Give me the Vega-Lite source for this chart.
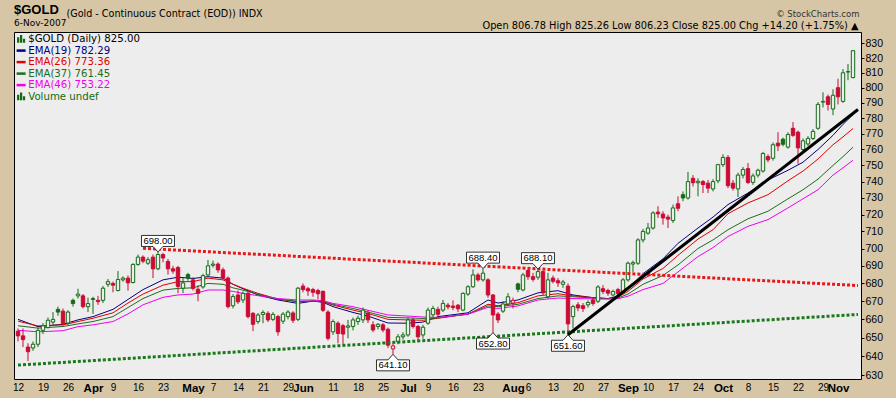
{
"$schema": "https://vega.github.io/schema/vega-lite/v6.json",
"width": 847, "height": 347,
"autosize": {"type": "none"},
"padding": {"left": 14, "top": 32, "right": 35, "bottom": 19},
"background": "#D6C6A6",
"title": {"text": "$GOLD", "subtitle": "6-Nov-2007", "anchor": "start", "frame": "group", "offset": -20, "font": "Liberation Sans", "fontSize": 13, "fontWeight": "bold", "color": "#000000", "subtitleFont": "DejaVu Sans", "subtitleFontSize": 9, "subtitleColor": "#000000", "subtitlePadding": 2},
"datasets": {
"candles": [
{"d":"2007-03-12","o":653.5,"h":655,"l":648,"c":651},
{"d":"2007-03-13","o":651,"h":655,"l":645,"c":649},
{"d":"2007-03-14","o":645,"h":647,"l":637.5,"c":642.5},
{"d":"2007-03-15","o":644.5,"h":648,"l":643,"c":646.5},
{"d":"2007-03-16","o":646.5,"h":655.5,"l":645,"c":654},
{"d":"2007-03-19","o":654,"h":658,"l":652,"c":656.5},
{"d":"2007-03-20","o":655.5,"h":661,"l":655,"c":659.5},
{"d":"2007-03-21","o":658.5,"h":664,"l":657,"c":660},
{"d":"2007-03-22","o":665.5,"h":667,"l":662,"c":664},
{"d":"2007-03-23","o":664.5,"h":666,"l":656.5,"c":657.5},
{"d":"2007-03-26","o":658,"h":665,"l":657,"c":664},
{"d":"2007-03-27","o":670.5,"h":671.5,"l":667,"c":668.7},
{"d":"2007-03-28","o":673,"h":677,"l":671.5,"c":674},
{"d":"2007-03-29","o":673,"h":674,"l":666,"c":667},
{"d":"2007-03-30","o":667,"h":672,"l":664,"c":668.7},
{"d":"2007-04-02","o":671,"h":672.5,"l":663,"c":671.5},
{"d":"2007-04-03","o":670.5,"h":673,"l":668,"c":669.8},
{"d":"2007-04-04","o":670.5,"h":678.5,"l":669,"c":677.3},
{"d":"2007-04-05","o":679.5,"h":682.5,"l":678,"c":681},
{"d":"2007-04-09","o":680,"h":681,"l":675,"c":679},
{"d":"2007-04-10","o":676,"h":687,"l":675.5,"c":682.2},
{"d":"2007-04-11","o":682,"h":684,"l":681,"c":683},
{"d":"2007-04-12","o":683,"h":684.5,"l":676,"c":680.3},
{"d":"2007-04-13","o":680.5,"h":691.5,"l":680,"c":690.8},
{"d":"2007-04-16","o":690.8,"h":696.5,"l":690,"c":695},
{"d":"2007-04-17","o":695,"h":696,"l":691.5,"c":692.7},
{"d":"2007-04-18","o":691.5,"h":695,"l":690.5,"c":693.5},
{"d":"2007-04-19","o":695,"h":696.5,"l":683,"c":688.3},
{"d":"2007-04-20","o":688.3,"h":698,"l":687.5,"c":696.5},
{"d":"2007-04-23","o":696.5,"h":697.5,"l":692,"c":694.5},
{"d":"2007-04-24","o":692.5,"h":694,"l":685,"c":688.3},
{"d":"2007-04-25","o":688.3,"h":690,"l":685.5,"c":687},
{"d":"2007-04-26","o":689,"h":690,"l":674.5,"c":678.3},
{"d":"2007-04-27","o":677.3,"h":683,"l":674.5,"c":680.3},
{"d":"2007-04-30","o":685,"h":686,"l":681.5,"c":683},
{"d":"2007-05-01","o":682,"h":683.5,"l":676,"c":677.2},
{"d":"2007-05-02","o":676.7,"h":679,"l":670,"c":674.4},
{"d":"2007-05-03","o":678,"h":685.5,"l":677,"c":684.4},
{"d":"2007-05-04","o":684.8,"h":693.4,"l":684,"c":690},
{"d":"2007-05-07","o":690.3,"h":693,"l":689,"c":691},
{"d":"2007-05-08","o":691,"h":692,"l":686,"c":687.7},
{"d":"2007-05-09","o":687.7,"h":689,"l":682,"c":683},
{"d":"2007-05-10","o":683,"h":684,"l":666,"c":667},
{"d":"2007-05-11","o":667.5,"h":674,"l":666,"c":672.6},
{"d":"2007-05-14","o":673.5,"h":676,"l":668.5,"c":669.7},
{"d":"2007-05-15","o":670.7,"h":675.5,"l":669,"c":674.4},
{"d":"2007-05-16","o":674.4,"h":675.5,"l":660.5,"c":661.5},
{"d":"2007-05-17","o":663.3,"h":664,"l":653.6,"c":657.3},
{"d":"2007-05-18","o":658.8,"h":663.5,"l":657.5,"c":662.4},
{"d":"2007-05-21","o":662.7,"h":665,"l":657.9,"c":663.8},
{"d":"2007-05-22","o":663.3,"h":664.5,"l":658.5,"c":659.7},
{"d":"2007-05-23","o":660,"h":664,"l":659,"c":662.7},
{"d":"2007-05-24","o":661.5,"h":662.5,"l":651.1,"c":653.2},
{"d":"2007-05-25","o":659,"h":664,"l":657.5,"c":662.9},
{"d":"2007-05-29","o":661.5,"h":665,"l":660,"c":664},
{"d":"2007-05-30","o":663.5,"h":664.5,"l":658,"c":659.5},
{"d":"2007-05-31","o":660,"h":678,"l":659,"c":677.3},
{"d":"2007-06-01","o":678.5,"h":680,"l":675,"c":676.5},
{"d":"2007-06-04","o":677,"h":678,"l":673,"c":675.8},
{"d":"2007-06-05","o":676.5,"h":677.5,"l":672.5,"c":675},
{"d":"2007-06-06","o":676,"h":677,"l":671,"c":674.2},
{"d":"2007-06-07","o":675.5,"h":676,"l":664,"c":665},
{"d":"2007-06-08","o":664,"h":665,"l":648.5,"c":649.7},
{"d":"2007-06-11","o":653.2,"h":660,"l":651.5,"c":658.8},
{"d":"2007-06-12","o":657.9,"h":659,"l":647,"c":652.3},
{"d":"2007-06-13","o":656.5,"h":657.5,"l":646.5,"c":652},
{"d":"2007-06-14","o":655.7,"h":659.7,"l":649.7,"c":656.4},
{"d":"2007-06-15","o":656.1,"h":661,"l":654,"c":659.7},
{"d":"2007-06-18","o":658.8,"h":662,"l":657,"c":660.6},
{"d":"2007-06-19","o":659.7,"h":666.5,"l":658,"c":665.1},
{"d":"2007-06-20","o":663.3,"h":665,"l":658,"c":659.7},
{"d":"2007-06-21","o":657,"h":659,"l":653,"c":654.2},
{"d":"2007-06-22","o":656.1,"h":658,"l":654.5,"c":657.3},
{"d":"2007-06-25","o":657,"h":658,"l":653,"c":654.2},
{"d":"2007-06-26","o":654.6,"h":655.5,"l":644.5,"c":646},
{"d":"2007-06-27","o":644,"h":647,"l":641.1,"c":645.6},
{"d":"2007-06-28","o":647.8,"h":652,"l":646.5,"c":650.5},
{"d":"2007-06-29","o":650.5,"h":653,"l":649,"c":651.5},
{"d":"2007-07-02","o":651.5,"h":661,"l":650.5,"c":659.7},
{"d":"2007-07-03","o":659.7,"h":661,"l":655,"c":656.1},
{"d":"2007-07-05","o":656.1,"h":657,"l":647.8,"c":650.5},
{"d":"2007-07-06","o":651.5,"h":657,"l":649.5,"c":655.7},
{"d":"2007-07-09","o":657.9,"h":666.5,"l":657,"c":665.1},
{"d":"2007-07-10","o":662.5,"h":667.5,"l":661,"c":666},
{"d":"2007-07-11","o":665.5,"h":667,"l":661.5,"c":662.8},
{"d":"2007-07-12","o":665.1,"h":670.7,"l":664,"c":668.8},
{"d":"2007-07-13","o":667.8,"h":669,"l":665.5,"c":666.9},
{"d":"2007-07-16","o":667.3,"h":670.5,"l":665,"c":666.5},
{"d":"2007-07-17","o":667.8,"h":668.5,"l":664,"c":665.8},
{"d":"2007-07-18","o":665.1,"h":675,"l":664.5,"c":674.4},
{"d":"2007-07-19","o":674,"h":679,"l":673,"c":678.1},
{"d":"2007-07-20","o":678.1,"h":688,"l":677.5,"c":684.8},
{"d":"2007-07-23","o":684.8,"h":686,"l":681,"c":682},
{"d":"2007-07-24","o":682,"h":688.4,"l":681,"c":685.8},
{"d":"2007-07-25","o":682,"h":683,"l":672,"c":673.5},
{"d":"2007-07-26","o":673.5,"h":674,"l":652.8,"c":662.4},
{"d":"2007-07-27","o":662.9,"h":664,"l":658,"c":659.7},
{"d":"2007-07-30","o":664.5,"h":670,"l":663.5,"c":668.5},
{"d":"2007-07-31","o":668.5,"h":674.5,"l":667.5,"c":672.5},
{"d":"2007-08-01","o":669,"h":672,"l":666,"c":670.5},
{"d":"2007-08-02","o":679.7,"h":680.5,"l":675,"c":676.7},
{"d":"2007-08-03","o":676.3,"h":686,"l":675.5,"c":684.8},
{"d":"2007-08-06","o":687.3,"h":688,"l":682,"c":683.8},
{"d":"2007-08-07","o":683.8,"h":686,"l":681,"c":682.3},
{"d":"2007-08-08","o":683.5,"h":688.1,"l":682,"c":686.7},
{"d":"2007-08-09","o":686.7,"h":687.5,"l":673.5,"c":674.7},
{"d":"2007-08-10","o":672.5,"h":686,"l":671.5,"c":682},
{"d":"2007-08-13","o":683,"h":684.5,"l":680,"c":681.2},
{"d":"2007-08-14","o":681.5,"h":683,"l":678,"c":680.3},
{"d":"2007-08-15","o":679.5,"h":682,"l":677.5,"c":680.8},
{"d":"2007-08-16","o":678.5,"h":680,"l":651.6,"c":657.5},
{"d":"2007-08-17","o":661.5,"h":668,"l":655,"c":667},
{"d":"2007-08-20","o":668,"h":669.5,"l":664.5,"c":666.3},
{"d":"2007-08-21","o":667.5,"h":669,"l":664,"c":666},
{"d":"2007-08-22","o":668,"h":670.5,"l":666.5,"c":669.3},
{"d":"2007-08-23","o":670.7,"h":672,"l":667.5,"c":668.8},
{"d":"2007-08-24","o":670,"h":679,"l":669,"c":678},
{"d":"2007-08-27","o":677,"h":679,"l":674,"c":675.5},
{"d":"2007-08-28","o":676,"h":677,"l":673,"c":674.5},
{"d":"2007-08-29","o":673.5,"h":676.5,"l":672.5,"c":675.4},
{"d":"2007-08-30","o":676.5,"h":677.5,"l":673,"c":674.3},
{"d":"2007-08-31","o":675,"h":683,"l":674,"c":682},
{"d":"2007-09-04","o":682,"h":692.5,"l":681,"c":691.5},
{"d":"2007-09-05","o":691,"h":693,"l":686.5,"c":691.8},
{"d":"2007-09-06","o":691.5,"h":706,"l":690.5,"c":705},
{"d":"2007-09-07","o":705,"h":711.5,"l":703.5,"c":710},
{"d":"2007-09-10","o":709,"h":715,"l":708,"c":712},
{"d":"2007-09-11","o":712,"h":722,"l":711,"c":721},
{"d":"2007-09-12","o":721.5,"h":725,"l":718,"c":720.5},
{"d":"2007-09-13","o":720.3,"h":722,"l":714,"c":718},
{"d":"2007-09-14","o":718.5,"h":720,"l":712,"c":717.3},
{"d":"2007-09-17","o":716.5,"h":726,"l":715,"c":724},
{"d":"2007-09-18","o":726.5,"h":731,"l":722,"c":723.8},
{"d":"2007-09-19","o":732,"h":734,"l":728,"c":730},
{"d":"2007-09-20","o":730,"h":746,"l":729,"c":740},
{"d":"2007-09-21","o":742,"h":744,"l":737,"c":739.3},
{"d":"2007-09-24","o":739.3,"h":742,"l":731,"c":740.2},
{"d":"2007-09-25","o":740,"h":741,"l":733,"c":738.2},
{"d":"2007-09-26","o":739,"h":741,"l":733,"c":736},
{"d":"2007-09-27","o":735.5,"h":741.5,"l":734,"c":740},
{"d":"2007-09-28","o":740.5,"h":751,"l":739,"c":750.5},
{"d":"2007-10-01","o":750.5,"h":757,"l":749,"c":755},
{"d":"2007-10-02","o":755,"h":756.5,"l":736,"c":737.5},
{"d":"2007-10-03","o":739,"h":741,"l":734.5,"c":736},
{"d":"2007-10-04","o":735.5,"h":745.5,"l":730.5,"c":744},
{"d":"2007-10-05","o":744,"h":749,"l":742,"c":747.5},
{"d":"2007-10-08","o":748,"h":751.5,"l":738.5,"c":739.5},
{"d":"2007-10-09","o":739.5,"h":745,"l":738,"c":743.5},
{"d":"2007-10-10","o":744,"h":748,"l":742.5,"c":747},
{"d":"2007-10-11","o":746.5,"h":758.5,"l":745.5,"c":757.5},
{"d":"2007-10-12","o":755.5,"h":757,"l":752,"c":753.5},
{"d":"2007-10-15","o":754.5,"h":764.5,"l":753,"c":763},
{"d":"2007-10-16","o":764,"h":771,"l":759,"c":762.3},
{"d":"2007-10-17","o":766.5,"h":767.5,"l":762,"c":763.3},
{"d":"2007-10-18","o":761.5,"h":771,"l":760.5,"c":769.5},
{"d":"2007-10-19","o":773.5,"h":777.5,"l":768,"c":769},
{"d":"2007-10-22","o":771,"h":772,"l":751,"c":761},
{"d":"2007-10-23","o":760,"h":767,"l":758,"c":765.5},
{"d":"2007-10-24","o":763.5,"h":768.5,"l":762,"c":767},
{"d":"2007-10-25","o":767,"h":773,"l":766,"c":771.5},
{"d":"2007-10-26","o":773.5,"h":790.5,"l":772.5,"c":789},
{"d":"2007-10-29","o":790.5,"h":797,"l":787,"c":791},
{"d":"2007-10-30","o":794,"h":795.5,"l":785,"c":789},
{"d":"2007-10-31","o":786,"h":799,"l":782,"c":795},
{"d":"2007-11-01","o":800,"h":806,"l":789,"c":794},
{"d":"2007-11-02","o":791,"h":812.5,"l":790,"c":810},
{"d":"2007-11-05","o":810.5,"h":816,"l":805,"c":810.8},
{"d":"2007-11-06","o":806.78,"h":825.26,"l":806.23,"c":825}
],
"ema": [
{"d":"2007-03-12","e19":660,"e26":659,"e37":656.5,"e46":654},
{"d":"2007-03-16","e19":656,"e26":656.4,"e37":655.2,"e46":653.2},
{"d":"2007-03-23","e19":657.3,"e26":657,"e37":656.1,"e46":653.8},
{"d":"2007-03-28","e19":659.7,"e26":658.8,"e37":657.5,"e46":656},
{"d":"2007-04-02","e19":661.5,"e26":660.6,"e37":658.8,"e46":657},
{"d":"2007-04-09","e19":665.5,"e26":663.6,"e37":661.5,"e46":658.8},
{"d":"2007-04-12","e19":671,"e26":669,"e37":666.5,"e46":663},
{"d":"2007-04-17","e19":676.5,"e26":674,"e37":671.5,"e46":668},
{"d":"2007-04-23","e19":682,"e26":679,"e37":676.2,"e46":672.2},
{"d":"2007-04-26","e19":683.5,"e26":681,"e37":677.2,"e46":673.5},
{"d":"2007-05-01","e19":682.8,"e26":681,"e37":677.5,"e46":674},
{"d":"2007-05-04","e19":683.8,"e26":683,"e37":680,"e46":676.3},
{"d":"2007-05-09","e19":683,"e26":682,"e37":679.5,"e46":676.3},
{"d":"2007-05-11","e19":679.5,"e26":679.5,"e37":677.5,"e46":675.5},
{"d":"2007-05-15","e19":677,"e26":677.3,"e37":676.2,"e46":674.4},
{"d":"2007-05-18","e19":673.5,"e26":674.4,"e37":673.9,"e46":673.1},
{"d":"2007-05-24","e19":670.7,"e26":671.2,"e37":671.2,"e46":671.5},
{"d":"2007-05-31","e19":668.8,"e26":669.7,"e37":669.9,"e46":670.7},
{"d":"2007-06-05","e19":670.1,"e26":670.1,"e37":670.1,"e46":670.7},
{"d":"2007-06-07","e19":669.4,"e26":669.7,"e37":669.9,"e46":670.3},
{"d":"2007-06-11","e19":667,"e26":667.9,"e37":668.3,"e46":668.8},
{"d":"2007-06-15","e19":663.8,"e26":665.1,"e37":666,"e46":667},
{"d":"2007-06-20","e19":661.8,"e26":663.2,"e37":664,"e46":665},
{"d":"2007-06-26","e19":658,"e26":660,"e37":661.1,"e46":662.4},
{"d":"2007-07-02","e19":657.9,"e26":659.7,"e37":660.8,"e46":661.8},
{"d":"2007-07-06","e19":658.5,"e26":659.5,"e37":660.5,"e46":661.3},
{"d":"2007-07-11","e19":661.5,"e26":660.6,"e37":660.8,"e46":661},
{"d":"2007-07-19","e19":663.6,"e26":662.9,"e37":662.9,"e46":662.8},
{"d":"2007-07-25","e19":670.7,"e26":668.3,"e37":667.4,"e46":666.6},
{"d":"2007-07-27","e19":669,"e26":667.5,"e37":667,"e46":666},
{"d":"2007-08-02","e19":670.7,"e26":669.2,"e37":668.3,"e46":667.4},
{"d":"2007-08-08","e19":674.7,"e26":673,"e37":671.5,"e46":670.7},
{"d":"2007-08-14","e19":675.9,"e26":674.2,"e37":673,"e46":671.8},
{"d":"2007-08-17","e19":673.5,"e26":673,"e37":672.5,"e46":671.5},
{"d":"2007-08-23","e19":672,"e26":672,"e37":671.8,"e46":671.3},
{"d":"2007-08-28","e19":671.5,"e26":671.5,"e37":671.4,"e46":671.2},
{"d":"2007-08-30","e19":672.8,"e26":672.3,"e37":671.8,"e46":671.4},
{"d":"2007-09-04","e19":677,"e26":675.5,"e37":674,"e46":672.8},
{"d":"2007-09-07","e19":685.5,"e26":682.5,"e37":679.5,"e46":676.5},
{"d":"2007-09-13","e19":694,"e26":688.5,"e37":684.5,"e46":680},
{"d":"2007-09-18","e19":703,"e26":696,"e37":690.5,"e46":686.5},
{"d":"2007-09-24","e19":712,"e26":705.5,"e37":700,"e46":695.3},
{"d":"2007-09-27","e19":718.5,"e26":711,"e37":705,"e46":700.5},
{"d":"2007-10-02","e19":726,"e26":720.5,"e37":711,"e46":707},
{"d":"2007-10-08","e19":733,"e26":727,"e37":717.5,"e46":713},
{"d":"2007-10-12","e19":741,"e26":732,"e37":722,"e46":717},
{"d":"2007-10-18","e19":747,"e26":740.5,"e37":729.5,"e46":724},
{"d":"2007-10-23","e19":752,"e26":746.5,"e37":735,"e46":729.5},
{"d":"2007-10-26","e19":760,"e26":754,"e37":741.5,"e46":735},
{"d":"2007-10-31","e19":769,"e26":763,"e37":750,"e46":744},
{"d":"2007-11-02","e19":776,"e26":768,"e37":755.5,"e46":748.5},
{"d":"2007-11-06","e19":782.29,"e26":773.36,"e37":761.45,"e46":753.22}
],
"above": [
{"d":"2007-04-20","v":698.0},
{"d":"2007-07-24","v":688.4},
{"d":"2007-08-08","v":688.1}
],
"below": [
{"d":"2007-06-27","v":641.1},
{"d":"2007-07-26","v":652.8},
{"d":"2007-08-16","v":651.6}
]
},
"resolve": {"axis": {"x": "independent", "y": "independent"}},
"layer": [
{
"data": {"name": "ema"},
"transform": [{"fold": ["e19", "e26", "e37", "e46"], "as": ["k", "v"]}],
"mark": {"type": "line", "strokeWidth": 1},
"encoding": {
"x": {"field": "d", "type": "ordinal", "scale": {"type": "point", "padding": 0.7, "align": 0.571},
"axis": {"orient": "top", "labels": false, "ticks": false, "domain": false, "grid": false, "title": "Open 806.78  High 825.26  Low 806.23  Close 825.00  Chg +14.20 (+1.75%) ▲", "titleX": 844, "titleY": -7, "titleAlign": "right", "titleAnchor": null, "titleBaseline": "middle", "titleFont": "DejaVu Sans", "titleFontSize": 9.8, "titleFontWeight": "normal", "titleColor": "#000000", "titlePadding": 0}},
"y": {"field": "v", "type": "quantitative", "scale": {"type": "log", "domain": [628.1, 837.9], "nice": false, "zero": false},
"axis": {"orient": "left", "labels": false, "ticks": false, "domain": false, "grid": false, "title": "(Gold - Continuous Contract (EOD)) INDX", "titleAngle": 0, "titleX": 52, "titleY": -19, "titleAlign": "left", "titleAnchor": null, "titleBaseline": "middle", "titleFont": "DejaVu Sans", "titleFontSize": 9.6, "titleFontWeight": "normal", "titleColor": "#000000"}},
"color": {"field": "k", "type": "nominal",
"scale": {"domain": ["gold", "e19", "e26", "e37", "e46", "vol"], "range": ["#136B13", "#000080", "#E00000", "#1F6B1F", "#F000F0", "#136B13"]},
"legend": {"orient": "top-left", "offset": 1, "padding": 1, "title": null,
"labelExpr": "datum.value == 'gold' ? '$GOLD (Daily) 825.00' : datum.value == 'e19' ? 'EMA(19) 782.29' : datum.value == 'e26' ? 'EMA(26) 773.36' : datum.value == 'e37' ? 'EMA(37) 761.45' : datum.value == 'e46' ? 'EMA(46) 753.22' : 'Volume undef'",
"labelFont": "DejaVu Sans", "labelFontSize": 10.2, "labelLimit": 400, "labelOffset": 2,
"symbolType": "stroke", "symbolSize": 81, "symbolStrokeWidth": 2.5, "rowPadding": 0.5,
"encode": {
"symbols": {"update": {
"shape": {"signal": "(datum.value == 'gold' || datum.value == 'vol') ? 'M-0.9,0.8V-0.4H-0.4V0.8ZM-0.25,0.8V-0.9H0.25V0.8ZM0.4,0.8V-0.1H0.9V0.8Z' : 'stroke'"},
"fill": {"signal": "(datum.value == 'gold' || datum.value == 'vol') ? '#136B13' : 'transparent'"},
"strokeWidth": {"signal": "(datum.value == 'gold' || datum.value == 'vol') ? 0 : 2.5"}
}},
"labels": {"update": {"fill": {"signal": "datum.value == 'gold' ? '#000000' : scale('color', datum.value)"}}}
}}
}
}
},
{
"data": {"name": "candles"},
"transform": [{"window": [{"op": "lag", "field": "c", "as": "pc"}], "sort": [{"field": "d", "order": "ascending"}]}],
"mark": {"type": "rule", "strokeWidth": 1},
"encoding": {
"x": {"field": "d", "type": "ordinal", "scale": {"type": "point", "padding": 0.7, "align": 0.571},
"axis": {"orient": "bottom", "title": null, "ticks": false, "domain": false, "grid": false, "labelAngle": 0, "labelPadding": 3, "labelOverlap": false, "labelFont": "Liberation Sans", "labelColor": "#000000",
"values": ["2007-03-12","2007-03-19","2007-03-26","2007-04-02","2007-04-09","2007-04-16","2007-04-23","2007-05-01","2007-05-07","2007-05-14","2007-05-21","2007-05-29","2007-06-01","2007-06-11","2007-06-18","2007-06-25","2007-07-02","2007-07-09","2007-07-16","2007-07-23","2007-08-01","2007-08-06","2007-08-13","2007-08-20","2007-08-27","2007-09-04","2007-09-10","2007-09-17","2007-09-24","2007-10-01","2007-10-08","2007-10-15","2007-10-22","2007-10-29","2007-11-01"],
"labelExpr": "indexof(['2007-04-02','2007-05-01','2007-06-01','2007-07-02','2007-08-01','2007-09-04','2007-10-01','2007-11-01'], datum.value) >= 0 ? utcFormat(toDate(datum.value), '%b') : toString(toNumber(slice(datum.value, 8)))",
"labelFontWeight": {"condition": {"test": "indexof(['2007-04-02','2007-05-01','2007-06-01','2007-07-02','2007-08-01','2007-09-04','2007-10-01','2007-11-01'], datum.value) >= 0", "value": "bold"}, "value": "normal"},
"labelFontSize": {"condition": {"test": "indexof(['2007-04-02','2007-05-01','2007-06-01','2007-07-02','2007-08-01','2007-09-04','2007-10-01','2007-11-01'], datum.value) >= 0", "value": 11.5}, "value": 10}}},
"y": {"field": "l", "type": "quantitative", "scale": {"type": "log", "domain": [628.1, 837.9], "nice": false, "zero": false},
"axis": {"orient": "right", "values": [630,640,650,660,670,680,690,700,710,720,730,740,750,760,770,780,790,800,810,820,830], "format": "d", "tickSize": 3, "tickColor": "#000000", "labelPadding": 1, "labelFont": "Liberation Sans", "labelFontSize": 10.5, "labelColor": "#000000", "domain": false, "grid": false, "labelOverlap": false,
"title": "© StockCharts.com", "titleAngle": 0, "titleX": -2, "titleY": -19, "titleAlign": "right", "titleAnchor": null, "titleBaseline": "middle", "titleFont": "DejaVu Sans", "titleFontSize": 8.5, "titleFontWeight": "normal", "titleColor": "#333333"}},
"y2": {"field": "h"},
"color": {"condition": {"test": "isValid(datum.pc) && datum.c >= datum.pc", "value": "#136B13"}, "value": "#CC0A34"}
}
},
{
"data": {"name": "candles"},
"transform": [{"window": [{"op": "lag", "field": "c", "as": "pc"}], "sort": [{"field": "d", "order": "ascending"}]}],
"mark": {"type": "bar", "size": 3.4, "strokeWidth": 1},
"encoding": {
"x": {"field": "d", "type": "ordinal", "scale": {"type": "point", "padding": 0.7, "align": 0.571}, "axis": null},
"y": {"field": "o", "type": "quantitative", "scale": {"type": "log", "domain": [628.1, 837.9], "nice": false, "zero": false}, "axis": null},
"y2": {"field": "c"},
"fill": {"condition": [{"test": "datum.c >= datum.o", "value": "#EDEDED"}, {"test": "isValid(datum.pc) && datum.c >= datum.pc", "value": "#136B13"}], "value": "#CC0A34"},
"stroke": {"condition": {"test": "isValid(datum.pc) && datum.c >= datum.pc", "value": "#136B13"}, "value": "#CC0A34"}
}
},
{
"data": {"values": [{"d":"2007-04-17","v":700.1},{"d":"2007-11-07","v":678.8}]},
"mark": {"type": "line", "color": "#E81818", "strokeWidth": 3, "strokeDash": [3, 2]},
"encoding": {
"x": {"field": "d", "type": "ordinal", "scale": {"type": "point", "padding": 0.7, "align": 0.571}, "axis": null},
"y": {"field": "v", "type": "quantitative", "scale": {"type": "log", "domain": [628.1, 837.9], "nice": false, "zero": false}, "axis": null}
}
},
{
"data": {"values": [{"d":"2007-03-12","v":635.4},{"d":"2007-11-07","v":662.7}]},
"mark": {"type": "line", "color": "#1A7A1A", "strokeWidth": 3, "strokeDash": [3, 2]},
"encoding": {
"x": {"field": "d", "type": "ordinal", "scale": {"type": "point", "padding": 0.7, "align": 0.571}, "axis": null},
"y": {"field": "v", "type": "quantitative", "scale": {"type": "log", "domain": [628.1, 837.9], "nice": false, "zero": false}, "axis": null}
}
},
{
"data": {"values": [{"d":"2007-08-16","v":651.6},{"d":"2007-11-07","v":785.7}]},
"mark": {"type": "line", "color": "#000000", "strokeWidth": 3},
"encoding": {
"x": {"field": "d", "type": "ordinal", "scale": {"type": "point", "padding": 0.7, "align": 0.571}, "axis": null},
"y": {"field": "v", "type": "quantitative", "scale": {"type": "log", "domain": [628.1, 837.9], "nice": false, "zero": false}, "axis": null}
}
},
{
"data": {"name": "above"},
"mark": {"type": "point", "shape": "M-1,-1H1V-0.333H0.3L0,0L-0.3,-0.333H-1Z", "size": 1089, "filled": true, "fill": "#FFFFFF", "stroke": "#000000", "strokeWidth": 0.8, "opacity": 1},
"encoding": {
"x": {"field": "d", "type": "ordinal", "scale": {"type": "point", "padding": 0.7, "align": 0.571}, "axis": null},
"y": {"field": "v", "type": "quantitative", "scale": {"type": "log", "domain": [628.1, 837.9], "nice": false, "zero": false}, "axis": null}
}
},
{
"data": {"name": "above"},
"mark": {"type": "text", "dy": -11, "font": "Liberation Sans", "fontSize": 9.5, "color": "#000000", "baseline": "middle", "align": "center"},
"encoding": {
"x": {"field": "d", "type": "ordinal", "scale": {"type": "point", "padding": 0.7, "align": 0.571}, "axis": null},
"y": {"field": "v", "type": "quantitative", "scale": {"type": "log", "domain": [628.1, 837.9], "nice": false, "zero": false}, "axis": null},
"text": {"field": "v", "type": "quantitative", "format": ".2f"}
}
},
{
"data": {"name": "below"},
"mark": {"type": "point", "shape": "M-1,1H1V0.333H0.3L0,0L-0.3,0.333H-1Z", "size": 1089, "filled": true, "fill": "#FFFFFF", "stroke": "#000000", "strokeWidth": 0.8, "opacity": 1},
"encoding": {
"x": {"field": "d", "type": "ordinal", "scale": {"type": "point", "padding": 0.7, "align": 0.571}, "axis": null},
"y": {"field": "v", "type": "quantitative", "scale": {"type": "log", "domain": [628.1, 837.9], "nice": false, "zero": false}, "axis": null}
}
},
{
"data": {"name": "below"},
"mark": {"type": "text", "dy": 11, "font": "Liberation Sans", "fontSize": 9.5, "color": "#000000", "baseline": "middle", "align": "center"},
"encoding": {
"x": {"field": "d", "type": "ordinal", "scale": {"type": "point", "padding": 0.7, "align": 0.571}, "axis": null},
"y": {"field": "v", "type": "quantitative", "scale": {"type": "log", "domain": [628.1, 837.9], "nice": false, "zero": false}, "axis": null},
"text": {"field": "v", "type": "quantitative", "format": ".2f"}
}
}
],
"config": {"view": {"fill": "#EDEDED", "stroke": "#000000", "strokeWidth": 1}}
}
